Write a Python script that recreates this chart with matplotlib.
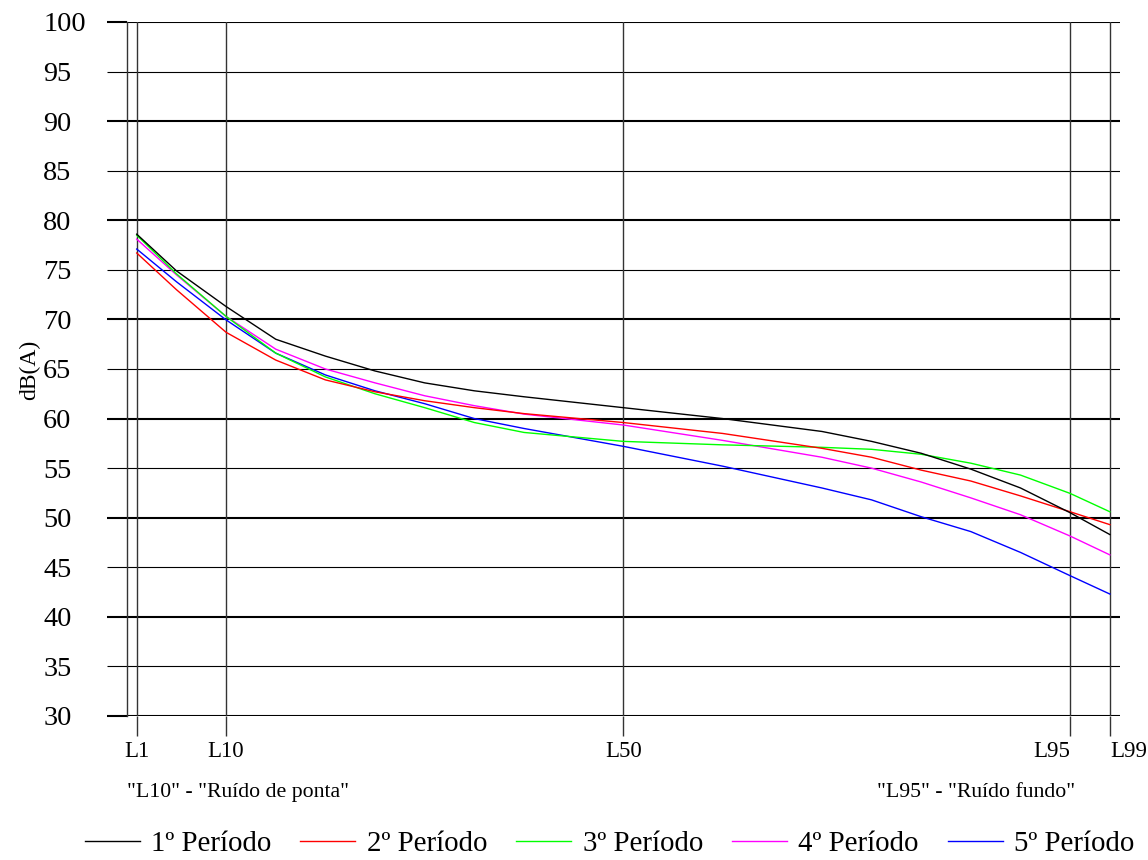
import matplotlib
matplotlib.use("Agg")
import matplotlib.pyplot as plt

plt.rcParams['font.family'] = ['Liberation Serif', 'DejaVu Serif']

# Percentile positions (Lx) at which values were read
percentiles = [1, 5, 10, 15, 20, 25, 30, 35, 40, 50, 60, 70, 75, 80, 85, 90, 95, 99]

periodo1 = [78.6, 74.9, 71.3, 68.0, 66.3, 64.8, 63.6, 62.8, 62.2, 61.1, 60.0, 58.7, 57.7, 56.5, 54.9, 53.0, 50.5, 48.3]
periodo2 = [76.7, 73.0, 68.7, 65.9, 63.9, 62.7, 61.8, 61.1, 60.5, 59.6, 58.5, 57.0, 56.1, 54.8, 53.7, 52.2, 50.6, 49.3]
periodo3 = [78.5, 74.6, 70.3, 66.6, 64.2, 62.5, 61.1, 59.6, 58.6, 57.7, 57.35, 57.1, 56.9, 56.4, 55.5, 54.3, 52.45, 50.6]
periodo4 = [78.1, 74.5, 70.3, 67.0, 65.0, 63.6, 62.3, 61.3, 60.45, 59.35, 57.8, 56.1, 55.0, 53.6, 52.0, 50.3, 48.15, 46.25]
periodo5 = [77.1, 73.8, 69.95, 66.6, 64.4, 62.8, 61.5, 60.0, 59.0, 57.2, 55.2, 53.0, 51.8, 50.1, 48.6, 46.5, 44.15, 42.3]

series_labels = ["1º Período", "2º Período", "3º Período", "4º Período", "5º Período"]
series_values = [periodo1, periodo2, periodo3, periodo4, periodo5]
series_colors = ["#000000", "#ff0000", "#00ff00", "#ff00ff", "#0000ff"]

xtick_pos = [1, 10, 50, 95, 99]
xtick_labels = ["L1", "L10", "L50", "L95", "L99"]
ytick_vals = list(range(30, 101, 5))

fig = plt.figure(figsize=(11.48, 8.6), dpi=100)
ax = fig.add_axes([126.8 / 1148, 1 - 716 / 860, (1119.8 - 126.8) / 1148, (716 - 22) / 860])
ax.set_xlim(0, 100)
ax.set_ylim(30, 100)

for s in ["top", "right", "bottom"]:
    ax.spines[s].set_visible(False)
ax.spines["left"].set_color("#333333")
ax.spines["left"].set_linewidth(1.0)

# Horizontal grid
for v in ytick_vals:
    ax.axhline(v, color="black", lw=1.5 if v % 10 == 0 else 0.8, zorder=1)
# Vertical grid
for p in xtick_pos:
    ax.axvline(p, color="#333333", lw=1.0, zorder=1)

lines = []
for vals, lab, col, z in zip(series_values, series_labels, series_colors, [7, 6, 5, 4, 3]):
    ln, = ax.plot(percentiles, vals, color=col, lw=1.0, label=lab, zorder=z)
    lines.append(ln)

ax.set_yticks(ytick_vals)
ax.set_yticklabels([str(v) for v in ytick_vals])
ax.tick_params(axis="y", direction="out", length=14.4, pad=45.8, labelsize=20.3, color="black")
for lbl in ax.get_yticklabels():
    lbl.set_horizontalalignment("left")
for t, v in zip(ax.yaxis.get_major_ticks(), ytick_vals):
    t.tick1line.set_markeredgewidth(1.5 if v % 10 == 0 else 0.8)

ax.set_xticks(xtick_pos)
ax.set_xticklabels(xtick_labels)
ax.tick_params(axis="x", direction="out", length=14.4, width=1.0, color="#333333", pad=3.5, labelsize=16.5)
xl = ax.get_xticklabels()
xl[3].set_horizontalalignment("right")
xl[4].set_horizontalalignment("left")

fig.text(30 / 1148, 1 - 370 / 860, "dB(A)", rotation=90, ha="center", va="center", fontsize=17)

fig.text(126.7 / 1148, 1 - 797 / 860, '"L10" - "Ruído de ponta"', ha="left", va="baseline", fontsize=15.7)
fig.text(1075 / 1148, 1 - 797 / 860, '"L95" - "Ruído fundo"', ha="right", va="baseline", fontsize=15.7)

fig.legend(handles=lines, labels=series_labels, loc="center", bbox_to_anchor=(0.531, 1 - 844 / 860),
           ncol=5, frameon=False, fontsize=20.8, handlelength=1.9, handletextpad=0.4,
           columnspacing=1.0, borderpad=0, borderaxespad=0)

fig.savefig("out.png", dpi=100)
